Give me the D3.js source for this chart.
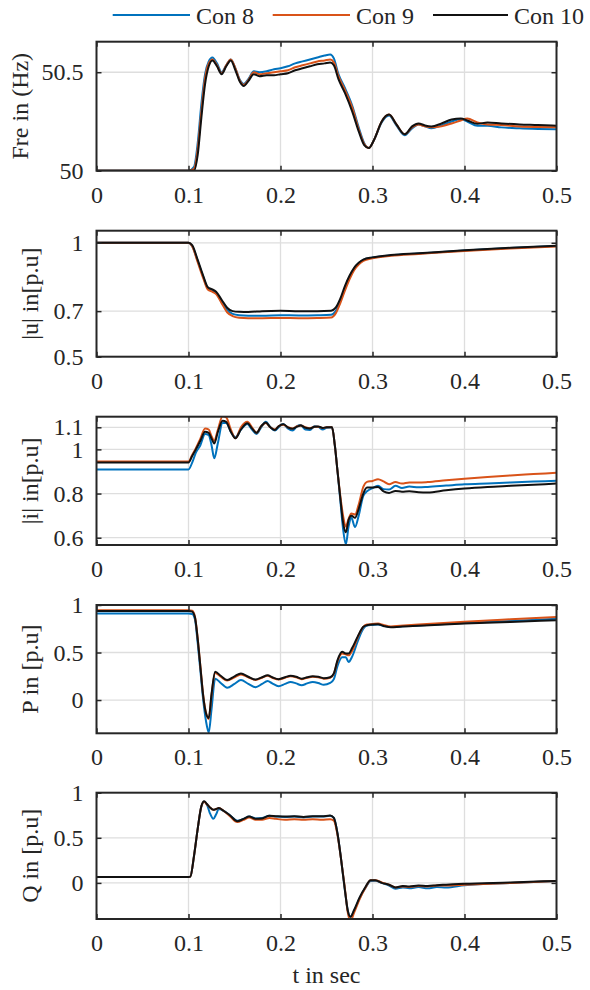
<!DOCTYPE html>
<html>
<head>
<meta charset="utf-8">
<script src="https://cdn.jsdelivr.net/npm/d3@7"></script>
<style>
  html, body { margin: 0; padding: 0; background: #ffffff; }
  svg { display: block; }
</style>
</head>
<body>
<svg id="chart" width="590" height="990"></svg>
<script>
// ---- series and ticks ----
const seriesNames = ["Con 8", "Con 9", "Con 10"];
const xTicks = [0, 0.1, 0.2, 0.3, 0.4, 0.5];

// Frequency (Hz)
const freT     = [0, 0.100, 0.106, 0.110, 0.114, 0.118, 0.122, 0.126, 0.131, 0.136, 0.141, 0.146, 0.151, 0.156, 0.160, 0.165, 0.171, 0.177, 0.185, 0.193, 0.200, 0.208, 0.216, 0.224, 0.232, 0.240, 0.248, 0.254, 0.258, 0.263, 0.270, 0.278, 0.285, 0.291, 0.296, 0.302, 0.310, 0.318, 0.326, 0.335, 0.343, 0.350, 0.357, 0.364, 0.375, 0.386, 0.396, 0.403, 0.414, 0.425, 0.440, 0.460, 0.480, 0.500];
const freCon8  = [50, 50, 50.02, 50.14, 50.34, 50.49, 50.555, 50.575, 50.545, 50.50, 50.535, 50.565, 50.52, 50.46, 50.44, 50.465, 50.505, 50.50, 50.505, 50.515, 50.52, 50.53, 50.545, 50.555, 50.565, 50.575, 50.585, 50.59, 50.57, 50.49, 50.42, 50.33, 50.22, 50.14, 50.115, 50.16, 50.245, 50.28, 50.23, 50.18, 50.215, 50.235, 50.225, 50.215, 50.23, 50.25, 50.262, 50.25, 50.228, 50.228, 50.22, 50.215, 50.212, 50.21];
const freCon9  = [50, 50, 50.01, 50.11, 50.30, 50.47, 50.545, 50.565, 50.535, 50.495, 50.535, 50.565, 50.52, 50.455, 50.435, 50.46, 50.50, 50.49, 50.495, 50.50, 50.505, 50.51, 50.525, 50.535, 50.545, 50.555, 50.56, 50.565, 50.55, 50.48, 50.41, 50.32, 50.21, 50.135, 50.115, 50.16, 50.25, 50.285, 50.235, 50.185, 50.22, 50.235, 50.225, 50.22, 50.225, 50.24, 50.255, 50.265, 50.245, 50.235, 50.232, 50.225, 50.222, 50.22];
const freCon10 = [50, 50, 50.0, 50.08, 50.27, 50.44, 50.53, 50.56, 50.53, 50.49, 50.53, 50.56, 50.51, 50.45, 50.43, 50.455, 50.49, 50.48, 50.485, 50.485, 50.49, 50.495, 50.51, 50.52, 50.53, 50.54, 50.545, 50.55, 50.535, 50.465, 50.395, 50.30, 50.20, 50.13, 50.115, 50.16, 50.25, 50.285, 50.235, 50.185, 50.225, 50.24, 50.23, 50.225, 50.24, 50.26, 50.265, 50.255, 50.238, 50.245, 50.24, 50.235, 50.232, 50.228];

// Voltage magnitude (p.u.)
const uT     = [0, 0.100, 0.104, 0.110, 0.116, 0.121, 0.126, 0.130, 0.136, 0.142, 0.148, 0.155, 0.165, 0.180, 0.200, 0.220, 0.240, 0.255, 0.260, 0.265, 0.270, 0.275, 0.280, 0.285, 0.290, 0.300, 0.320, 0.350, 0.400, 0.450, 0.500];
const uCon8  = [1.0, 1.0, 0.985, 0.92, 0.85, 0.80, 0.79, 0.78, 0.74, 0.705, 0.688, 0.682, 0.68, 0.68, 0.682, 0.681, 0.682, 0.684, 0.70, 0.745, 0.80, 0.85, 0.885, 0.91, 0.925, 0.935, 0.945, 0.953, 0.966, 0.977, 0.986];
const uCon9  = [1.0, 1.0, 0.985, 0.915, 0.845, 0.795, 0.785, 0.775, 0.735, 0.695, 0.678, 0.671, 0.669, 0.669, 0.670, 0.669, 0.670, 0.672, 0.69, 0.735, 0.79, 0.84, 0.88, 0.905, 0.92, 0.932, 0.943, 0.951, 0.964, 0.975, 0.984];
const uCon10 = [1.0, 1.0, 0.99, 0.925, 0.855, 0.805, 0.795, 0.785, 0.75, 0.715, 0.70, 0.697, 0.696, 0.70, 0.702, 0.70, 0.70, 0.702, 0.715, 0.755, 0.81, 0.855, 0.89, 0.912, 0.926, 0.936, 0.946, 0.954, 0.967, 0.978, 0.987];

// Current magnitude (p.u.)
const iT     = [0, 0.100, 0.104, 0.108, 0.113, 0.118, 0.122, 0.125, 0.128, 0.132, 0.137, 0.141, 0.146, 0.151, 0.157, 0.164, 0.169, 0.174, 0.179, 0.184, 0.189, 0.194, 0.198, 0.203, 0.208, 0.213, 0.218, 0.222, 0.227, 0.232, 0.237, 0.241, 0.246, 0.250, 0.256, 0.259, 0.262, 0.265, 0.268, 0.271, 0.274, 0.277, 0.281, 0.285, 0.290, 0.294, 0.300, 0.306, 0.312, 0.318, 0.325, 0.332, 0.340, 0.350, 0.360, 0.380, 0.400, 0.425, 0.450, 0.475, 0.500];
const iCon8  = [0.909, 0.909, 0.94, 0.985, 1.02, 1.07, 1.065, 1.02, 0.96, 1.03, 1.12, 1.12, 1.08, 1.055, 1.09, 1.115, 1.09, 1.07, 1.10, 1.125, 1.10, 1.085, 1.10, 1.115, 1.095, 1.085, 1.105, 1.11, 1.09, 1.088, 1.105, 1.102, 1.09, 1.098, 1.10, 1.02, 0.90, 0.77, 0.64, 0.57, 0.65, 0.69, 0.648, 0.70, 0.79, 0.81, 0.825, 0.835, 0.82, 0.818, 0.835, 0.825, 0.832, 0.828, 0.83, 0.836, 0.842, 0.846, 0.85, 0.854, 0.858];
const iCon9  = [0.945, 0.945, 0.975, 1.005, 1.05, 1.095, 1.09, 1.06, 1.04, 1.09, 1.15, 1.145, 1.09, 1.05, 1.10, 1.125, 1.10, 1.075, 1.105, 1.12, 1.10, 1.09, 1.105, 1.112, 1.10, 1.095, 1.105, 1.108, 1.10, 1.096, 1.102, 1.103, 1.097, 1.10, 1.10, 1.02, 0.90, 0.79, 0.70, 0.65, 0.685, 0.71, 0.705, 0.75, 0.83, 0.853, 0.857, 0.865, 0.855, 0.842, 0.852, 0.845, 0.85, 0.85, 0.852, 0.86, 0.867, 0.875, 0.882, 0.888, 0.894];
const iCon10 = [0.941, 0.941, 0.97, 1.0, 1.04, 1.08, 1.075, 1.05, 1.027, 1.08, 1.13, 1.125, 1.08, 1.05, 1.09, 1.118, 1.095, 1.075, 1.105, 1.122, 1.10, 1.088, 1.105, 1.114, 1.10, 1.093, 1.103, 1.108, 1.098, 1.095, 1.103, 1.104, 1.097, 1.10, 1.10, 1.02, 0.90, 0.78, 0.67, 0.625, 0.68, 0.70, 0.69, 0.73, 0.80, 0.827, 0.827, 0.83, 0.81, 0.803, 0.812, 0.808, 0.81, 0.806, 0.805, 0.815, 0.823, 0.83, 0.835, 0.84, 0.845];

// Active power (p.u.)
const pT     = [0, 0.100, 0.104, 0.107, 0.110, 0.113, 0.116, 0.119, 0.122, 0.125, 0.129, 0.135, 0.142, 0.150, 0.157, 0.165, 0.173, 0.180, 0.186, 0.191, 0.198, 0.205, 0.211, 0.217, 0.223, 0.229, 0.235, 0.241, 0.247, 0.254, 0.258, 0.262, 0.267, 0.271, 0.274, 0.278, 0.284, 0.290, 0.294, 0.300, 0.306, 0.312, 0.320, 0.330, 0.350, 0.400, 0.450, 0.500];
const pCon8  = [0.91, 0.91, 0.905, 0.85, 0.60, 0.30, 0.0, -0.22, -0.34, -0.10, 0.225, 0.18, 0.13, 0.17, 0.21, 0.17, 0.135, 0.17, 0.20, 0.175, 0.145, 0.17, 0.19, 0.175, 0.155, 0.175, 0.19, 0.18, 0.16, 0.18, 0.22, 0.36, 0.45, 0.45, 0.40, 0.46, 0.62, 0.75, 0.785, 0.79, 0.795, 0.78, 0.768, 0.775, 0.785, 0.81, 0.832, 0.855];
const pCon9  = [0.945, 0.945, 0.94, 0.88, 0.65, 0.35, 0.05, -0.13, -0.20, 0.05, 0.285, 0.245, 0.205, 0.24, 0.27, 0.24, 0.21, 0.235, 0.255, 0.235, 0.215, 0.235, 0.25, 0.24, 0.22, 0.235, 0.245, 0.24, 0.225, 0.235, 0.275, 0.41, 0.49, 0.48, 0.47, 0.52, 0.66, 0.77, 0.795, 0.80, 0.805, 0.79, 0.775, 0.782, 0.795, 0.825, 0.85, 0.874];
const pCon10 = [0.937, 0.937, 0.93, 0.87, 0.64, 0.34, 0.04, -0.14, -0.19, 0.06, 0.297, 0.255, 0.21, 0.25, 0.28, 0.245, 0.215, 0.24, 0.26, 0.24, 0.22, 0.24, 0.255, 0.245, 0.225, 0.24, 0.25, 0.245, 0.23, 0.24, 0.28, 0.42, 0.507, 0.49, 0.49, 0.55, 0.67, 0.77, 0.787, 0.795, 0.797, 0.78, 0.765, 0.772, 0.782, 0.805, 0.822, 0.84];

// Reactive power (p.u.)
const qT     = [0, 0.100, 0.102, 0.106, 0.110, 0.114, 0.117, 0.120, 0.123, 0.127, 0.130, 0.133, 0.138, 0.145, 0.153, 0.160, 0.166, 0.173, 0.180, 0.188, 0.195, 0.205, 0.215, 0.225, 0.235, 0.245, 0.254, 0.258, 0.262, 0.266, 0.270, 0.273, 0.276, 0.280, 0.286, 0.292, 0.298, 0.303, 0.310, 0.318, 0.325, 0.333, 0.340, 0.350, 0.360, 0.370, 0.380, 0.400, 0.450, 0.500];
const qCon8  = [0.066, 0.066, 0.07, 0.30, 0.60, 0.85, 0.90, 0.87, 0.78, 0.71, 0.76, 0.82, 0.80, 0.75, 0.69, 0.71, 0.735, 0.715, 0.72, 0.745, 0.735, 0.73, 0.735, 0.725, 0.735, 0.735, 0.745, 0.72, 0.545, 0.25, -0.08, -0.30, -0.375, -0.31, -0.17, -0.06, 0.02, 0.025, 0.0, -0.03, -0.065, -0.05, -0.06, -0.045, -0.06, -0.045, -0.05, -0.025, 0.0, 0.02];
const qCon9  = [0.066, 0.066, 0.07, 0.30, 0.60, 0.85, 0.90, 0.87, 0.84, 0.81, 0.82, 0.83, 0.80, 0.74, 0.675, 0.70, 0.725, 0.70, 0.70, 0.72, 0.71, 0.70, 0.705, 0.70, 0.705, 0.70, 0.705, 0.69, 0.53, 0.25, -0.06, -0.32, -0.42, -0.33, -0.18, -0.06, 0.03, 0.03, 0.005, -0.02, -0.05, -0.04, -0.045, -0.035, -0.04, -0.03, -0.03, -0.02, 0.0, 0.02];
const qCon10 = [0.066, 0.066, 0.07, 0.30, 0.60, 0.85, 0.904, 0.875, 0.84, 0.81, 0.82, 0.83, 0.80, 0.75, 0.684, 0.71, 0.735, 0.71, 0.715, 0.745, 0.74, 0.735, 0.74, 0.73, 0.74, 0.74, 0.746, 0.72, 0.545, 0.25, -0.08, -0.30, -0.375, -0.30, -0.16, -0.05, 0.03, 0.03, 0.0, -0.02, -0.05, -0.035, -0.04, -0.03, -0.035, -0.025, -0.02, -0.01, 0.005, 0.022];

// ---- styling ----
const seriesColors = ["#0072BD", "#D95319", "#111111"];
const axisColor = "#262626";
const gridColor = "#dedede";
const serif = "'Liberation Serif', Tinos, 'Times New Roman', Times, 'DejaVu Serif', serif";

// ---- panel layout ----
const panels = [
  { label: "Fre in (Hz)", t: freT, series: [freCon8, freCon9, freCon10], domain: [50, 50.655], ticks: [50, 50.5], fmt: d => d === 50 ? "50" : "50.5", top: 41.7, bottom: 170.7, labelX: 28 },
  { label: "|u| in[p.u]", t: uT, series: [uCon8, uCon9, uCon10], domain: [0.5, 1.053], ticks: [0.5, 0.7, 1], fmt: d => String(d), top: 230.7, bottom: 356.7, labelX: 38 },
  { label: "|i| in[p.u]", t: iT, series: [iCon8, iCon9, iCon10], domain: [0.567, 1.148], ticks: [0.6, 0.8, 1, 1.1], fmt: d => String(d), top: 416.7, bottom: 545, labelX: 38 },
  { label: "P in [p.u]", t: pT, series: [pCon8, pCon9, pCon10], domain: [-0.35, 1.0], ticks: [0, 0.5, 1], fmt: d => String(d), top: 605, bottom: 733.3, labelX: 38 },
  { label: "Q in [p.u]", t: qT, series: [qCon8, qCon9, qCon10], domain: [-0.40, 1.0], ticks: [0, 0.5, 1], fmt: d => String(d), top: 792.7, bottom: 919, labelX: 38 }
];

const left = 96.5, right = 556.5;
const fontSize = 24;
const svg = d3.select("#chart");

const x = d3.scaleLinear().domain([0, 0.5]).range([left, right]);

panels.forEach((p, pi) => {
  const y = d3.scaleLinear().domain(p.domain).range([p.bottom, p.top]);
  const g = svg.append("g");

  // grid
  g.selectAll(".vg").data(xTicks.slice(1, -1)).join("line")
    .attr("x1", d => x(d)).attr("x2", d => x(d))
    .attr("y1", p.top).attr("y2", p.bottom)
    .attr("stroke", gridColor).attr("stroke-width", 1.3);
  g.selectAll(".hg").data(p.ticks.filter(v => y(v) > p.top + 1 && y(v) < p.bottom - 1)).join("line")
    .attr("x1", left).attr("x2", right)
    .attr("y1", d => y(d)).attr("y2", d => y(d))
    .attr("stroke", gridColor).attr("stroke-width", 1.3);

  // clip
  const clipId = "clip" + pi;
  svg.append("clipPath").attr("id", clipId).append("rect")
    .attr("x", left).attr("y", p.top).attr("width", right - left).attr("height", p.bottom - p.top);

  const line = d3.line()
    .x((d, i) => x(p.t[i]))
    .y(d => y(d))
    .curve(d3.curveMonotoneX);

  const lines = g.append("g").attr("clip-path", `url(#${clipId})`);
  p.series.forEach((vals, si) => {
    lines.append("path")
      .attr("d", line(vals))
      .attr("fill", "none")
      .attr("stroke", seriesColors[si])
      .attr("stroke-width", 2)
      .attr("stroke-linejoin", "round");
  });

  // axes with inward ticks, MATLAB-style box
  const tickLen = 5;
  const xb = d3.axisBottom(x).tickValues(xTicks).tickSizeInner(-tickLen).tickSizeOuter(0).tickPadding(tickLen + 10)
    .tickFormat(d => d === 0 ? "0" : String(d));
  const xt = d3.axisTop(x).tickValues(xTicks).tickSizeInner(-tickLen).tickSizeOuter(0).tickFormat("");
  const yl = d3.axisLeft(y).tickValues(p.ticks).tickSizeInner(-tickLen).tickSizeOuter(0).tickPadding(tickLen + 8).tickFormat(p.fmt);
  const yr = d3.axisRight(y).tickValues(p.ticks).tickSizeInner(-tickLen).tickSizeOuter(0).tickFormat("");

  const styleAxis = sel => {
    sel.attr("font-family", serif).attr("font-size", fontSize);
    sel.select(".domain").remove();
    sel.selectAll(".tick line").attr("stroke", axisColor).attr("stroke-width", 1.5);
    sel.selectAll(".tick text").attr("fill", axisColor);
  };

  g.append("g").attr("transform", `translate(0,${p.bottom})`).call(xb).call(styleAxis);
  g.append("g").attr("transform", `translate(0,${p.top})`).call(xt).call(styleAxis);
  g.append("g").attr("transform", `translate(${left},0)`).call(yl).call(styleAxis);
  g.append("g").attr("transform", `translate(${right},0)`).call(yr).call(styleAxis);

  g.append("rect")
    .attr("x", left).attr("y", p.top).attr("width", right - left).attr("height", p.bottom - p.top)
    .attr("fill", "none").attr("stroke", axisColor).attr("stroke-width", 2);

  // y label
  g.append("text")
    .attr("transform", `translate(${p.labelX},${(p.top + p.bottom) / 2}) rotate(-90)`)
    .attr("text-anchor", "middle")
    .attr("font-family", serif)
    .attr("font-size", fontSize)
    .attr("fill", axisColor)
    .text(p.label);
});

// x label
svg.append("text")
  .attr("x", (left + right) / 2).attr("y", 983)
  .attr("text-anchor", "middle")
  .attr("font-family", serif)
  .attr("font-size", fontSize)
  .attr("fill", axisColor)
  .text("t in sec");

// legend
const legendItems = [
  { x1: 112.7, x2: 190, tx: 196 },
  { x1: 272.7, x2: 350, tx: 356 },
  { x1: 433, x2: 508, tx: 514 }
];
const lg = svg.append("g");
seriesNames.forEach((name, i) => {
  const it = legendItems[i];
  lg.append("line").attr("x1", it.x1).attr("x2", it.x2).attr("y1", 15).attr("y2", 15)
    .attr("stroke", seriesColors[i]).attr("stroke-width", 2);
  lg.append("text").attr("x", it.tx).attr("y", 24)
    .attr("font-family", serif).attr("font-size", fontSize).attr("fill", axisColor)
    .text(name);
});
</script>
</body>
</html>
